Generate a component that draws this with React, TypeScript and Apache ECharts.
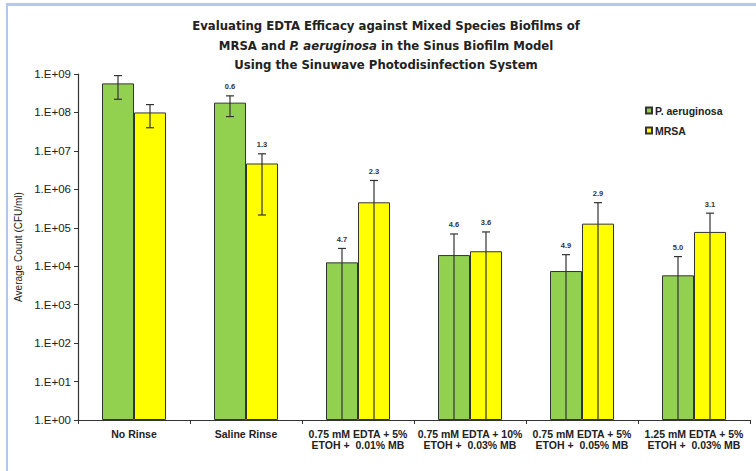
import React, { useEffect, useRef } from "react";
import * as echarts from "echarts";

const categories = [
  "No Rinse",
  "Saline Rinse",
  "0.75 mM EDTA + 5%\nETOH +  0.01% MB",
  "0.75 mM EDTA + 10%\nETOH +  0.03% MB",
  "0.75 mM EDTA + 5%\nETOH +  0.05% MB",
  "1.25 mM EDTA + 5%\nETOH +  0.03% MB",
];
const paeruValues = [5.7e8, 1.8e8, 1.26e4, 1.95e4, 7.5e3, 5.8e3];
const paeruHigh = [9.1e8, 2.7e8, 2.9e4, 6.9e4, 2.0e4, 1.78e4];
const paeruLow: (number | null)[] = [2.2e8, 7.8e7, null, null, null, null];
const paeruLabels = ["", "0.6", "4.7", "4.6", "4.9", "5.0"];
const mrsaValues = [1.0e8, 4.7e6, 4.6e5, 2.45e4, 1.28e5, 7.8e4];
const mrsaHigh = [1.6e8, 8.4e6, 1.7e6, 7.8e4, 4.5e5, 2.4e5];
const mrsaLow: (number | null)[] = [4.0e7, 2.15e5, null, null, null, null];
const mrsaLabels = ["", "1.3", "2.3", "3.6", "2.9", "3.1"];

const AXIS_MIN = 1;
const AXIS_MAX = 1e9;
const GREEN = "#92d050";
const YELLOW = "#ffff00";
const BORDER = "#333333";

function errorSeries(name: string, values: number[], high: number[], low: (number | null)[], labels: string[], offset: number) {
  const data = values.map((_, i) => [i, high[i], low[i] == null ? AXIS_MIN : low[i], low[i] == null ? 0 : 1]);
  return {
    type: "custom",
    name: name + " err",
    data,
    z: 5,
    silent: true,
    encode: { x: 0, y: [1, 2] },
    renderItem: (params: any, api: any) => {
      const i = api.value(0);
      const hi = api.coord([i, api.value(1)]);
      const lo = api.coord([i, api.value(2)]);
      const hasLowCap = api.value(3) === 1;
      const x = hi[0] + offset;
      const cap = 4;
      const children: any[] = [
        { type: "line", shape: { x1: x, y1: hi[1], x2: x, y2: lo[1] }, style: { stroke: BORDER, lineWidth: 1.2 } },
        { type: "line", shape: { x1: x - cap, y1: hi[1], x2: x + cap, y2: hi[1] }, style: { stroke: BORDER, lineWidth: 1.2 } },
      ];
      if (hasLowCap) {
        children.push({ type: "line", shape: { x1: x - cap, y1: lo[1], x2: x + cap, y2: lo[1] }, style: { stroke: BORDER, lineWidth: 1.2 } });
      }
      const lbl = labels[i];
      if (lbl) {
        children.push({
          type: "text",
          style: {
            text: lbl,
            x,
            y: hi[1] - 5,
            textAlign: "center",
            textVerticalAlign: "bottom",
            font: "bold 7.5px 'Liberation Sans', Arial, sans-serif",
            fill: "#333",
          },
        });
      }
      return { type: "group", children };
    },
  };
}

export default function App() {
  const ref = useRef<HTMLDivElement>(null);
  useEffect(() => {
    if (!ref.current) return;
    const chart = echarts.init(ref.current, null, { renderer: "svg" });
    const titleFont = "'Liberation Sans Narrow', 'DejaVu Sans Condensed', 'Liberation Sans', sans-serif";
    chart.setOption({
      animation: false,
      backgroundColor: "#ffffff",
      title: {
        left: 381,
        top: 11,
        textAlign: "center",
        text:
          "{b|Evaluating EDTA Efficacy against Mixed Species Biofilms of}\n" +
          "{b|MRSA and }{i|P. aeruginosa}{b| in the Sinus Biofilm Model}\n" +
          "{b|Using the Sinuwave Photodisinfection System}",
        textStyle: {
          rich: {
            b: { fontFamily: titleFont, fontWeight: "bold", fontSize: 13, color: "#222", lineHeight: 19.5 },
            i: { fontFamily: titleFont, fontWeight: "bold", fontStyle: "italic", fontSize: 13, color: "#222", lineHeight: 19.5 },
          },
        },
      },
      legend: {
        orient: "vertical",
        left: 640,
        top: 100,
        itemWidth: 6,
        itemHeight: 6,
        itemGap: 9,
        icon: "rect",
        data: ["P. aeruginosa", "MRSA"],
        textStyle: { fontFamily: "'Liberation Sans', Arial, sans-serif", fontWeight: "bold", fontSize: 10.5, color: "#222", padding: [0, 0, 0, -2] },
      },
      grid: { left: 78, top: 74, right: 6, bottom: 51, containLabel: false },
      xAxis: {
        type: "category",
        data: categories,
        axisLine: { lineStyle: { color: "#333", width: 1.2 } },
        axisTick: { show: true, length: 4, lineStyle: { color: "#333" } },
        axisLabel: {
          interval: 0,
          margin: 8,
          fontFamily: "'Liberation Sans', Arial, sans-serif",
          fontWeight: "bold",
          fontSize: 10.5,
          lineHeight: 11.5,
          color: "#222",
        },
      },
      yAxis: {
        type: "log",
        logBase: 10,
        min: AXIS_MIN,
        max: AXIS_MAX,
        name: "Average Count (CFU/ml)",
        nameLocation: "middle",
        nameGap: 52,
        nameTextStyle: { fontFamily: "'Liberation Sans', Arial, sans-serif", fontSize: 10, color: "#222" },
        splitLine: { show: false },
        axisLine: { show: true, lineStyle: { color: "#333", width: 1.2 } },
        axisTick: { show: true, length: 4, lineStyle: { color: "#333" } },
        axisLabel: {
          margin: 7,
          fontFamily: "'Liberation Sans', Arial, sans-serif",
          fontSize: 11.5,
          color: "#222",
          formatter: (v: number) => {
            const e = Math.round(Math.log10(v));
            return "1.E+" + (e < 10 ? "0" + e : String(e));
          },
        },
      },
      series: [
        {
          type: "bar",
          name: "P. aeruginosa",
          data: paeruValues,
          barWidth: 32,
          barGap: "0%",
          itemStyle: { color: GREEN, borderColor: BORDER, borderWidth: 1 },
        },
        {
          type: "bar",
          name: "MRSA",
          data: mrsaValues,
          barWidth: 32,
          barGap: "0%",
          itemStyle: { color: YELLOW, borderColor: BORDER, borderWidth: 1 },
        },
        errorSeries("P. aeruginosa", paeruValues, paeruHigh, paeruLow, paeruLabels, -16),
        errorSeries("MRSA", mrsaValues, mrsaHigh, mrsaLow, mrsaLabels, 16),
      ],
      graphic: [
        { type: "rect", shape: { x: 6, y: 3, width: 750, height: 3 }, style: { fill: "#aecaf0" }, silent: true },
        { type: "rect", shape: { x: 6, y: 3, width: 2, height: 468 }, style: { fill: "#aecaf0" }, silent: true },
      ],
    });
    return () => chart.dispose();
  }, []);
  return <div ref={ref} style={{ position: "fixed", left: 0, top: 0, width: 756, height: 471 }} />;
}
